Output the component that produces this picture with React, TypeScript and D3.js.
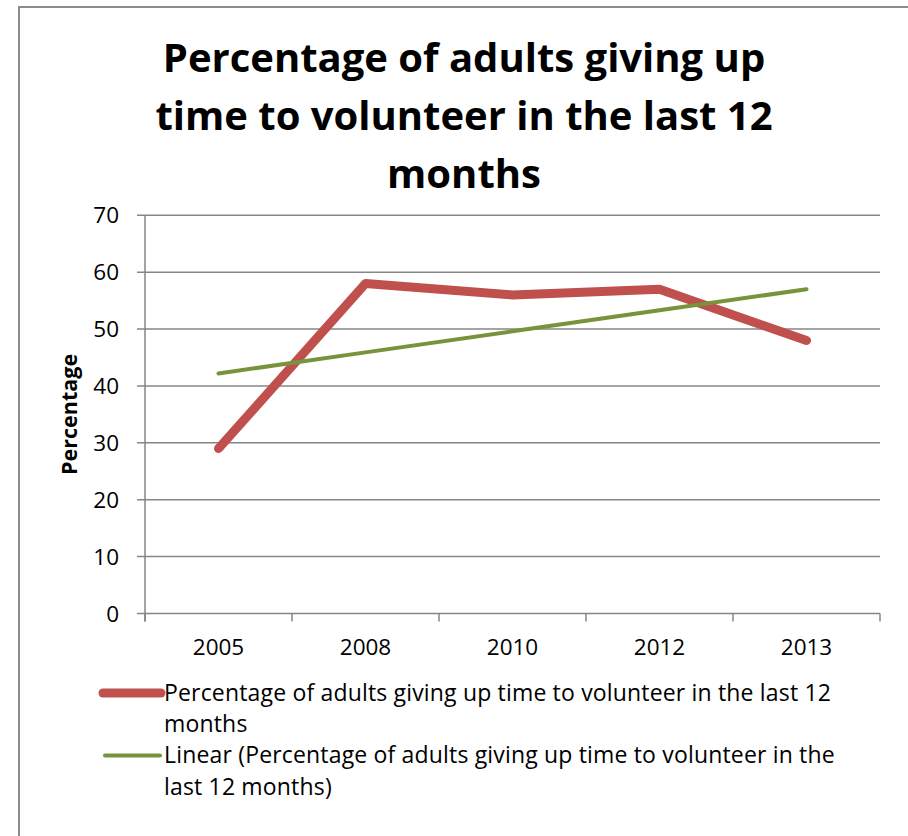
import React from "react";
import * as d3 from "d3";

const categories = ["2005", "2008", "2010", "2012", "2013"];
const values = [29, 58, 56, 57, 48];
const yTicks = [0, 10, 20, 30, 40, 50, 60, 70];
const titleLines = ["Percentage of adults giving up", "time to volunteer in the last 12", "months"];
const seriesName = "Percentage of adults giving up time to volunteer in the last 12 months";
const legendLines1 = ["Percentage of adults giving up time to volunteer in the last 12", "months"];
const legendLines2 = ["Linear (Percentage of adults giving up time to volunteer in the", "last 12 months)"];

const W = 908;
const H = 836;
const FONT = "'Open Sans', sans-serif";

function linearTrend(ys: number[]): number[] {
  const xs = ys.map((_, i) => i + 1);
  const mx = d3.mean(xs) as number;
  const my = d3.mean(ys) as number;
  const num = d3.sum(xs.map((x, i) => (x - mx) * (ys[i] - my)));
  const den = d3.sum(xs.map((x) => (x - mx) * (x - mx)));
  const b = num / den;
  const a = my - b * mx;
  return xs.map((x) => a + b * x);
}

export default function App() {
  const left = 145;
  const right = 880;
  const top = 215.3;
  const bottom = 613.5;

  const x = d3.scaleBand<string>().domain(categories).range([left, right]).padding(0);
  const y = d3.scaleLinear().domain([0, 70]).range([bottom, top]);
  const trend = linearTrend(values);

  const line = d3
    .line<number>()
    .x((_, i) => (x(categories[i]) as number) + x.bandwidth() / 2)
    .y((d) => y(d));

  const gridColor = "#868686";
  const red = "#C0504D";
  const green = "#77933C";

  const boundaries = categories.map((c) => x(c) as number).concat([right]);

  return (
    <svg width={W} height={H} style={{ position: "absolute", left: 0, top: 0, background: "#fff" }} fontFamily={FONT}>
      <rect x={19} y={7} width={W} height={H} fill="#fff" stroke="#8c8c8c" strokeWidth={2} />
      {titleLines.map((t, i) => (
        <text key={i} x={464} y={72 + i * 58} textAnchor="middle" fontSize={40} fontWeight="bold" fill="#000">
          {t}
        </text>
      ))}
      {yTicks.map((t) => (
        <g key={t}>
          <line x1={137} x2={right} y1={y(t)} y2={y(t)} stroke={gridColor} strokeWidth={1.5} />
          <text x={119} y={y(t)} dy="0.36em" textAnchor="end" fontSize={22.5} fill="#000">
            {t}
          </text>
        </g>
      ))}
      <line x1={left} x2={left} y1={top} y2={bottom + 8} stroke={gridColor} strokeWidth={1.5} />
      {boundaries.map((bx, i) => (
        <line key={i} x1={bx} x2={bx} y1={bottom} y2={bottom + 8} stroke={gridColor} strokeWidth={1.5} />
      ))}
      {categories.map((c) => (
        <text key={c} x={(x(c) as number) + x.bandwidth() / 2} y={655} textAnchor="middle" fontSize={22.5} fill="#000">
          {c}
        </text>
      ))}
      <text transform={`translate(77,${(top + bottom) / 2}) rotate(-90)`} textAnchor="middle" fontSize={21.5} fontWeight="bold" fill="#000">
        Percentage
      </text>
      <path d={line(values) as string} fill="none" stroke={red} strokeWidth={9} strokeLinecap="round" strokeLinejoin="round">
        <title>{seriesName}</title>
      </path>
      <path d={line(trend) as string} fill="none" stroke={green} strokeWidth={4} strokeLinecap="round" />
      <line x1={103} x2={161} y1={693} y2={693} stroke={red} strokeWidth={9} strokeLinecap="round" />
      {legendLines1.map((t, i) => (
        <text key={i} x={164} y={701 + i * 31} fontSize={23} letterSpacing={0.17} fill="#000">
          {t}
        </text>
      ))}
      <line x1={105} x2={160} y1={755.5} y2={755.5} stroke={green} strokeWidth={4} strokeLinecap="round" />
      {legendLines2.map((t, i) => (
        <text key={i} x={164} y={763 + i * 32} fontSize={23} letterSpacing={0.17} fill="#000">
          {t}
        </text>
      ))}
    </svg>
  );
}
